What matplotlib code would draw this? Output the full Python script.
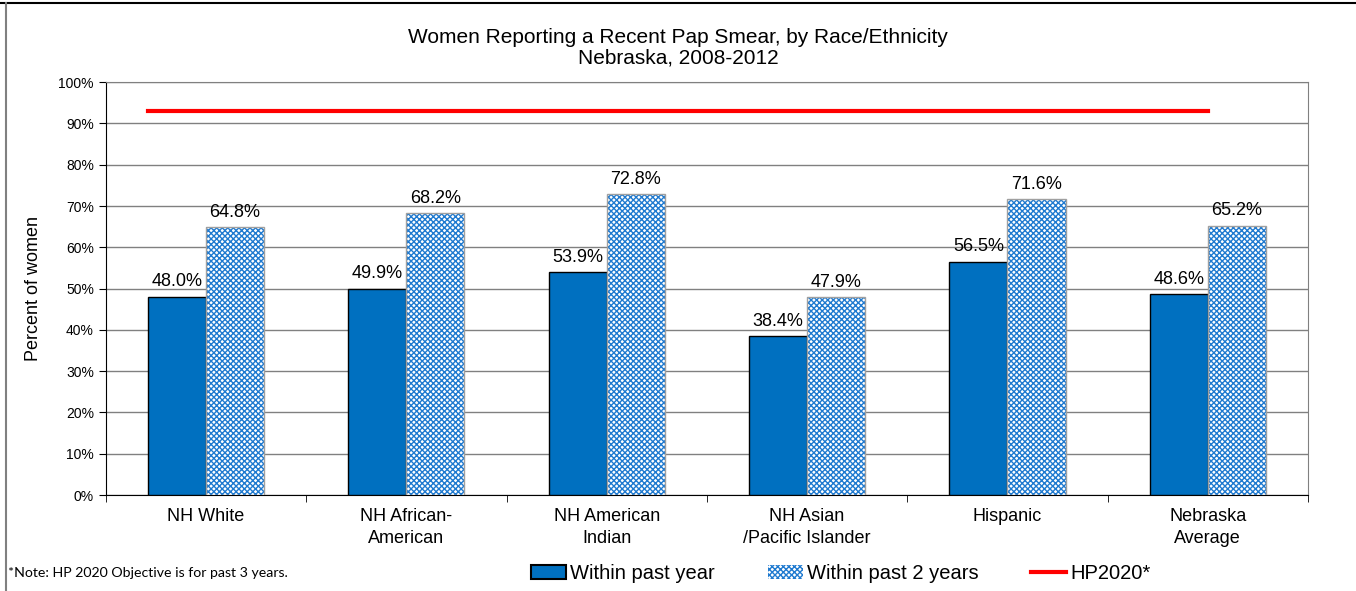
import matplotlib.pyplot as plt
import matplotlib.patches as mpatches
from matplotlib.lines import Line2D
import numpy as np

plt.rcParams['font.family'] = ['Liberation Sans', 'DejaVu Sans']

categories = ['NH White', 'NH African-\nAmerican', 'NH American\nIndian',
              'NH Asian\n/Pacific Islander', 'Hispanic', 'Nebraska\nAverage']
past_year = [48.0, 49.9, 53.9, 38.4, 56.5, 48.6]
past_2_years = [64.8, 68.2, 72.8, 47.9, 71.6, 65.2]
hp2020 = 93.0

fig = plt.figure(figsize=(13.56, 5.91), dpi=100)
ax = fig.add_axes([0.078, 0.1624, 0.8866, 0.6986])

x = np.arange(len(categories))
w = 0.29

ax.bar(x - w / 2, past_year, w, color='#0070c0', edgecolor='black', linewidth=1, zorder=3)
# hatched bars: blue hatch on white, then a grey outline
ax.bar(x + w / 2, past_2_years, w, color='white', edgecolor='#1f7ad0', hatch='xxxxxx',
       linewidth=0, zorder=3)
ax.bar(x + w / 2, past_2_years, w, fill=False, edgecolor='#a0a0a0', linewidth=1, zorder=4)

for xi, v in zip(x - w / 2, past_year):
    ax.text(xi, v + 1.6, f'{v:.1f}%', ha='center', va='bottom', fontsize=13)
for xi, v in zip(x + w / 2, past_2_years):
    ax.text(xi, v + 1.6, f'{v:.1f}%', ha='center', va='bottom', fontsize=13)

# HP2020 target line (runs from first bar to centre of last group)
ax.plot([x[0] - w, x[-1]], [hp2020, hp2020], color='#ff0000', linewidth=3, zorder=5)

ax.set_xlim(-0.5, len(categories) - 0.5)
ax.set_ylim(0, 100)
ax.set_yticks(np.arange(0, 101, 10))
ax.set_yticklabels([f'{t}%' for t in range(0, 101, 10)], fontsize=10)
ax.set_xticks(x)
ax.set_xticklabels(categories, fontsize=13, linespacing=1.4)
ax.tick_params(axis='x', length=0, pad=9)
ax.set_xticks(np.arange(-0.5, len(categories), 1), minor=True)
ax.tick_params(axis='x', which='minor', length=5)
ax.tick_params(axis='y', length=5)
ax.grid(axis='y', color='#808080', linewidth=1, zorder=0)
for s in ['top', 'right']:
    ax.spines[s].set_color('#808080')
ax.spines['left'].set_color('black')
ax.spines['bottom'].set_color('black')
ax.set_ylabel('Percent of women', fontsize=13, labelpad=12)

fig.text(0.5, 0.92, 'Women Reporting a Recent Pap Smear, by Race/Ethnicity\nNebraska, 2008-2012',
         ha='center', va='center', fontsize=15, linespacing=1.1)

handles = [mpatches.Patch(facecolor='#0070c0', edgecolor='black', linewidth=1.5),
           mpatches.Patch(facecolor='white', edgecolor='#1f7ad0', hatch='xxxxxx', linewidth=0),
           Line2D([0], [0], color='#ff0000', linewidth=3)]
fig.legend(handles, ['Within past year', 'Within past 2 years', 'HP2020*'],
           loc='center', bbox_to_anchor=(0.62, 0.03), ncol=3, frameon=False,
           fontsize=14.5, handlelength=1.75, handletextpad=0.2, columnspacing=2.6)

fig.text(0.006, 0.03, '*Note: HP 2020 Objective is for past 3 years.', ha='left', va='center',
         fontsize=10.2, family=['Lato', 'DejaVu Sans'])

# outer frame lines
fig.add_artist(Line2D([0, 1], [0.995, 0.995], color='black', linewidth=1.5, transform=fig.transFigure))
fig.add_artist(Line2D([0.0045, 0.0045], [0, 0.995], color='#808080', linewidth=1.5, transform=fig.transFigure))

fig.savefig('out.png', dpi=100)
